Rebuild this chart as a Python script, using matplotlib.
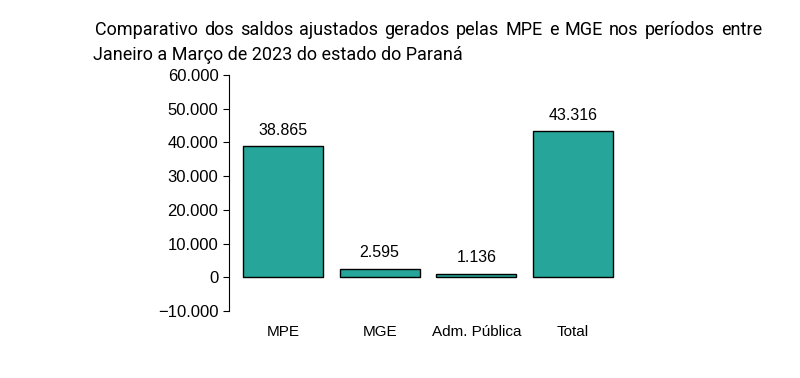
import matplotlib
matplotlib.use("Agg")
import matplotlib.pyplot as plt
from matplotlib.ticker import FuncFormatter

# data
categories = ["MPE", "MGE", "Adm. Pública", "Total"]
saldos = [38865, 2595, 1136, 43316]
title_line1 = "Comparativo dos saldos ajustados gerados pelas MPE e MGE nos períodos entre"
title_line2 = "Janeiro a Março de 2023 do estado do Paraná"

plt.rcParams['font.family'] = ['Liberation Sans', 'DejaVu Sans']

fig = plt.figure(figsize=(8, 3.78), dpi=100)
ax = fig.add_axes([0.286, 0.177, 0.498, 0.625])

x = range(len(categories))
ax.bar(x, saldos, width=0.83, color='#26a69a', edgecolor='black', linewidth=1)

for xi, v in zip(x, saldos):
    ax.annotate(f"{v:,}".replace(",", "."), (xi, v), xytext=(0, 6),
                textcoords='offset points', ha='center', va='bottom', fontsize=11.5)

ax.set_ylim(-10000, 60000)
ax.set_xlim(-0.56, 3.56)
ax.set_yticks(range(-10000, 60001, 10000))
ax.yaxis.set_major_formatter(FuncFormatter(
    lambda v, p: f"{int(v):,}".replace(",", ".").replace("-", "\u2212")))
ax.set_xticks(list(x))
ax.set_xticklabels(categories)
ax.tick_params(axis='x', length=0, pad=10, labelsize=11)
ax.tick_params(axis='y', labelsize=12, length=4)
for s in ['top', 'right', 'bottom']:
    ax.spines[s].set_visible(False)

# justified first title line
fig.canvas.draw()
r = fig.canvas.get_renderer()
words = title_line1.split()
x0, x1 = 95 / 800, 762 / 800
y1 = 1 - 30 / 378
texts = [fig.text(0, y1, w, fontsize=13, family='Roboto', va='center') for w in words]
widths = [t.get_window_extent(r).width / fig.bbox.width for t in texts]
gap = (x1 - x0 - sum(widths)) / (len(words) - 1)
pos = x0
for t, w in zip(texts, widths):
    t.set_x(pos)
    pos += w + gap
fig.text(93 / 800, 1 - 55 / 378, title_line2, fontsize=13, family='Roboto', va='center')

fig.savefig("out.png", dpi=100)
